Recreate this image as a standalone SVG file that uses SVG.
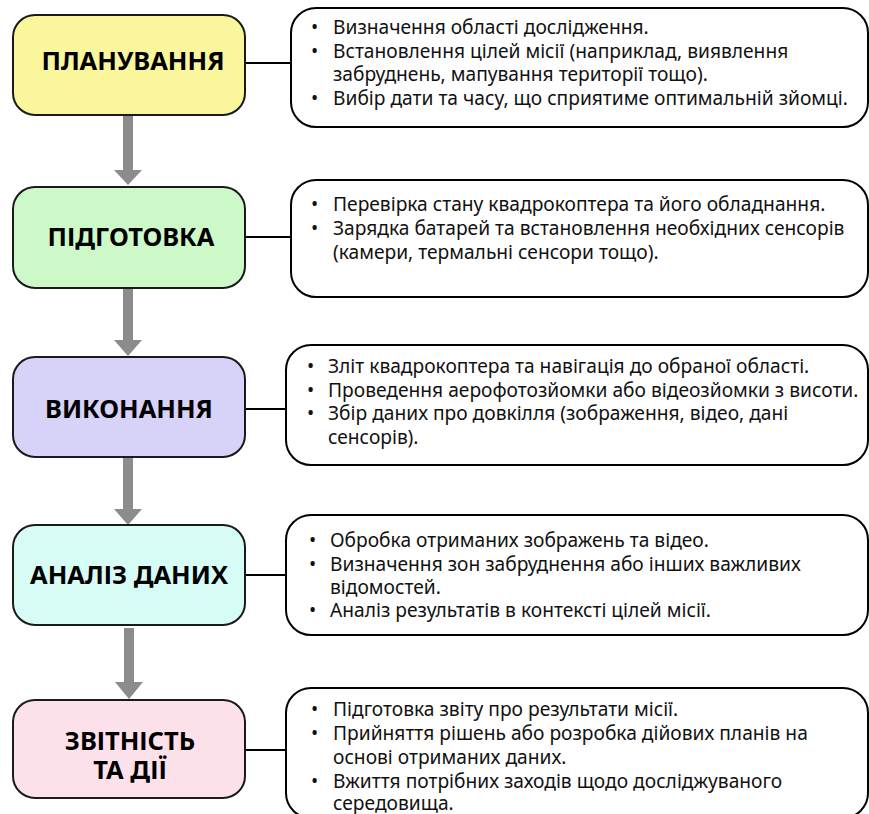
<svg xmlns="http://www.w3.org/2000/svg" width="869" height="814" viewBox="0 0 869 814">
<defs>
<style>
.node{stroke:#1a1a1a;stroke-width:2}
.title{font-family:"Noto Sans","Open Sans",sans-serif;font-weight:bold;font-size:25.5px;fill:#000;text-anchor:middle}
.box{fill:#fff;stroke:#000;stroke-width:2}
.body{font-family:"Noto Sans","Open Sans",sans-serif;font-size:19.2px;fill:#111}
.link{stroke:#000;stroke-width:2;fill:none}
.arrow{fill:#8c8c8c}
</style>
</defs>
<rect width="869" height="814" fill="#fff"/>
<g id="connectors">
<line class="link" x1="245" y1="63" x2="291" y2="63"/>
<line class="link" x1="245" y1="237" x2="291" y2="237"/>
<line class="link" x1="245" y1="409" x2="286" y2="409"/>
<line class="link" x1="245" y1="575" x2="286" y2="575"/>
<line class="link" x1="245" y1="750" x2="286" y2="750"/>
<path class="arrow" d="M123 116H133V170H142L128 185L114 170H123Z"/>
<path class="arrow" d="M123 289H133V340H142L128 356L114 340H123Z"/>
<path class="arrow" d="M123 458H133V509H142L128 525L114 509H123Z"/>
<path class="arrow" d="M124 628H134V682H143L129 699L115 682H124Z"/>
</g>
<g id="planning">
<rect class="node" x="13" y="15" width="232" height="100" rx="22" fill="#faf69c"/>
<text class="title" x="133" y="70">ПЛАНУВАННЯ</text>
</g>
<g id="planning-notes">
<rect class="box" x="291" y="8" width="577" height="119" rx="25"/>
<text class="body"><tspan x="311" y="34">•</tspan><tspan x="333" y="34">Визначення області дослідження.</tspan><tspan x="311" y="58">•</tspan><tspan x="333" y="58">Встановлення цілей місії (наприклад, виявлення</tspan><tspan x="333" y="81">забруднень, мапування території тощо).</tspan><tspan x="311" y="105">•</tspan><tspan x="333" y="105">Вибір дати та часу, що сприятиме оптимальній зйомці.</tspan></text>
</g>
<g id="preparation">
<rect class="node" x="13" y="187" width="232" height="101" rx="22" fill="#cdf9c9"/>
<text class="title" x="131" y="246">ПІДГОТОВКА</text>
</g>
<g id="preparation-notes">
<rect class="box" x="291" y="180" width="577" height="117" rx="25"/>
<text class="body"><tspan x="311" y="211">•</tspan><tspan x="333" y="211">Перевірка стану квадрокоптера та його обладнання.</tspan><tspan x="311" y="235">•</tspan><tspan x="333" y="235">Зарядка батарей та встановлення необхідних сенсорів</tspan><tspan x="333" y="259">(камери, термальні сенсори тощо).</tspan></text>
</g>
<g id="execution">
<rect class="node" x="13" y="357" width="232" height="100" rx="22" fill="#d7d2f7"/>
<text class="title" x="129" y="418">ВИКОНАННЯ</text>
</g>
<g id="execution-notes">
<rect class="box" x="286" y="345" width="582" height="120" rx="25"/>
<text class="body"><tspan x="307" y="373">•</tspan><tspan x="328" y="373">Зліт квадрокоптера та навігація до обраної області.</tspan><tspan x="307" y="397">•</tspan><tspan x="328" y="397">Проведення аерофотозйомки або відеозйомки з висоти.</tspan><tspan x="307" y="420">•</tspan><tspan x="328" y="420">Збір даних про довкілля (зображення, відео, дані</tspan><tspan x="328" y="444">сенсорів).</tspan></text>
</g>
<g id="analysis">
<rect class="node" x="13" y="525" width="232" height="100" rx="22" fill="#d7fcf5"/>
<text class="title" x="129" y="584">АНАЛІЗ ДАНИХ</text>
</g>
<g id="analysis-notes">
<rect class="box" x="286" y="515" width="582" height="120" rx="25"/>
<text class="body"><tspan x="309" y="547">•</tspan><tspan x="330" y="547">Обробка отриманих зображень та відео.</tspan><tspan x="309" y="571">•</tspan><tspan x="330" y="571">Визначення зон забруднення або інших важливих</tspan><tspan x="330" y="594">відомостей.</tspan><tspan x="309" y="617">•</tspan><tspan x="330" y="617">Аналіз результатів в контексті цілей місії.</tspan></text>
</g>
<g id="reporting">
<rect class="node" x="13" y="700" width="232" height="98" rx="22" fill="#fde1ea"/>
<text class="title"><tspan x="130" y="750">ЗВІТНІСТЬ</tspan><tspan x="130" y="779">ТА ДІЇ</tspan></text>
</g>
<g id="reporting-notes">
<rect class="box" x="286" y="688" width="582" height="130" rx="25"/>
<text class="body"><tspan x="311" y="716">•</tspan><tspan x="333" y="716">Підготовка звіту про результати місії.</tspan><tspan x="311" y="740">•</tspan><tspan x="333" y="740">Прийняття рішень або розробка дійових планів на</tspan><tspan x="333" y="764">основі отриманих даних.</tspan><tspan x="311" y="788">•</tspan><tspan x="333" y="788">Вжиття потрібних заходів щодо досліджуваного</tspan><tspan x="333" y="810">середовища.</tspan></text>
</g>
</svg>
